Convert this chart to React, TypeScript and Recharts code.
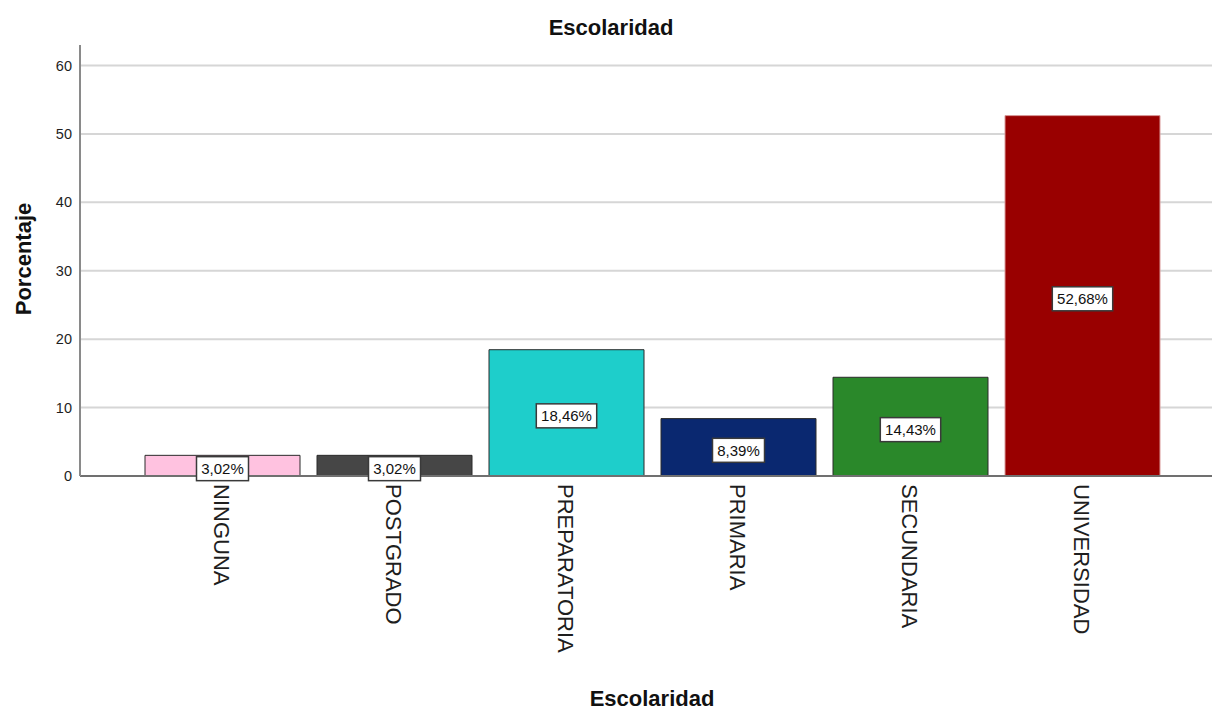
import React from 'react';
import { BarChart, Bar, XAxis, YAxis, CartesianGrid, Cell, LabelList } from 'recharts';

const categories = ['NINGUNA', 'POSTGRADO', 'PREPARATORIA', 'PRIMARIA', 'SECUNDARIA', 'UNIVERSIDAD'];
const percentages = [3.02, 3.02, 18.46, 8.39, 14.43, 52.68];
const barColors = ['#FFC2E0', '#464646', '#1ECECB', '#0A2870', '#2A882A', '#990000'];
const barStrokes = ['#2b2b2b', '#2b2b2b', '#2b2b2b', '#2b2b2b', '#2b2b2b', '#d99a9a'];
const yTicks = [0, 10, 20, 30, 40, 50, 60];

const data = categories.map((name, i) => ({ name, value: percentages[i] }));

const FONT = '"Liberation Sans", Arial, sans-serif';

const formatPct = (v: number) => `${v.toFixed(2).replace('.', ',')}%`;

const RotatedTick = (props: any) => {
  const { x, y, payload } = props;
  return (
    <text
      transform={`translate(${x},${y}) rotate(90)`}
      textAnchor="start"
      dy="0.36em"
      fontSize={22}
      fontFamily={FONT}
      fill="#1e1e1e"
    >
      {payload.value}
    </text>
  );
};

// white boxed value label in the middle of each bar
const ValueBox = (props: any) => {
  const { x, y, width, height, value } = props;
  const text = formatPct(Number(value));
  const boxW = text.length * 8.4 + 10;
  const boxH = 24;
  const cx = x + width / 2;
  const cy = y + height / 2 + 3;
  return (
    <g>
      <rect
        x={cx - boxW / 2}
        y={cy - boxH / 2}
        width={boxW}
        height={boxH}
        fill="#ffffff"
        stroke="#3a3a3a"
        strokeWidth={1.5}
      />
      <text
        x={cx}
        y={cy}
        textAnchor="middle"
        dominantBaseline="central"
        fontSize={15}
        fontFamily={FONT}
        fill="#111"
      >
        {text}
      </text>
    </g>
  );
};

const App: React.FC = () => {
  return (
    <div
      style={{
        position: 'absolute',
        left: 0,
        top: 0,
        width: 1212,
        height: 711,
        background: '#ffffff',
        fontFamily: FONT,
      }}
    >
      <div
        style={{
          position: 'absolute',
          left: 10,
          top: 17,
          width: 1202,
          textAlign: 'center',
          fontSize: 22,
          lineHeight: '22px',
          fontWeight: 700,
          color: '#111',
        }}
      >
        Escolaridad
      </div>
      <div
        style={{
          position: 'absolute',
          left: 24 - 100,
          top: 259 - 11,
          width: 200,
          height: 22,
          textAlign: 'center',
          fontSize: 22,
          lineHeight: '22px',
          fontWeight: 700,
          color: '#111',
          transform: 'rotate(-90deg)',
        }}
      >
        Porcentaje
      </div>
      <div
        style={{
          position: 'absolute',
          left: 552,
          top: 688,
          width: 200,
          textAlign: 'center',
          fontSize: 22,
          lineHeight: '22px',
          fontWeight: 700,
          color: '#111',
        }}
      >
        Escolaridad
      </div>
      <BarChart
        width={1212}
        height={711}
        data={data}
        margin={{ top: 45, right: 0, left: 30, bottom: 0 }}
        style={{ position: 'absolute', left: 0, top: 0 }}
      >
        <CartesianGrid
          vertical={false}
          horizontalValues={yTicks.filter((t) => t > 0)}
          stroke="#d6d6d6"
          strokeWidth={2}
        />
        <XAxis
          dataKey="name"
          interval={0}
          height={235}
          padding={{ left: 56, right: 44 }}
          tickLine={false}
          axisLine={{ stroke: '#707070', strokeWidth: 2 }}
          tick={<RotatedTick />}
        />
        <YAxis
          width={50}
          domain={[0, 63]}
          ticks={yTicks}
          allowDataOverflow
          tickLine={false}
          axisLine={{ stroke: '#8a8a8a', strokeWidth: 2 }}
          tick={{ fill: '#1e1e1e', fontSize: 14.5, fontFamily: FONT }}
        />
        <Bar dataKey="value" barSize={155} isAnimationActive={false}>
          {data.map((d, i) => (
            <Cell key={d.name} fill={barColors[i]} stroke={barStrokes[i]} strokeWidth={1} />
          ))}
          <LabelList dataKey="value" content={<ValueBox />} />
        </Bar>
      </BarChart>
    </div>
  );
};

export default App;
